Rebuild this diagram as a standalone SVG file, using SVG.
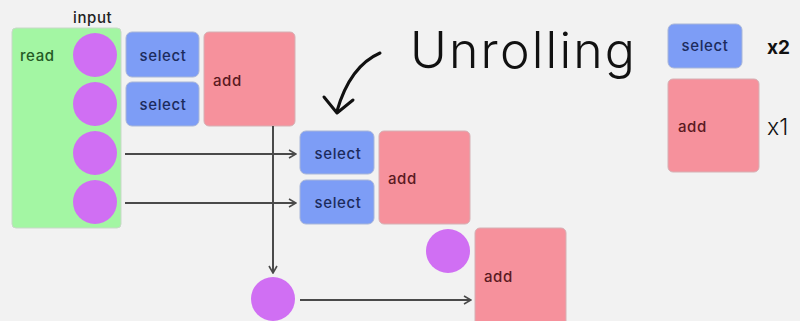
<svg xmlns="http://www.w3.org/2000/svg" width="800" height="321" viewBox="0 0 800 321">
  <defs>
    <marker id="tip" viewBox="0 0 10 10" refX="9" refY="5" markerWidth="10" markerHeight="10" markerUnits="userSpaceOnUse" orient="auto">
      <path d="M2,1 L9,5 L2,9" fill="none" stroke="#4a4a4a" stroke-width="1.6"/>
    </marker>
  </defs>
  <style>
    .bg { fill: #f2f2f2; }
    .read { fill: #a3f6a3; stroke: #c8d8c8; stroke-width: 1; }
    .sel { fill: #7d9df6; stroke: #a9b6d8; stroke-width: 1; }
    .add { fill: #f6919c; stroke: #d6b0b4; stroke-width: 1; }
    .dot { fill: #d06ff3; }
    .wire { fill: none; stroke: #4a4a4a; stroke-width: 2; }
    .lbl { font-family: Inter, "Liberation Sans", sans-serif; font-size: 15px; font-weight: 500; letter-spacing: 0.6px; }
    .selt { fill: #1c2b5c; text-anchor: middle; }
    .addt { fill: #5a1a22; }
    .readt { fill: #255a25; }
  </style>

  <rect class="bg" x="0" y="0" width="800" height="321"/>

  <!-- input reader with its four values -->
  <g id="read">
    <rect class="read" x="12" y="28" width="109" height="200" rx="4"/>
    <text class="lbl readt" x="20" y="61">read</text>
    <text class="lbl" x="73" y="23" fill="#222" font-weight="400">input</text>
    <circle class="dot" cx="95" cy="55" r="22"/>
    <circle class="dot" cx="95" cy="104" r="22"/>
    <circle class="dot" cx="95" cy="153" r="22"/>
    <circle class="dot" cx="95" cy="202" r="22"/>
  </g>

  <!-- first stage -->
  <g id="select1">
    <rect class="sel" x="126" y="32" width="73" height="45" rx="6"/>
    <text class="lbl selt" x="163" y="61">select</text>
  </g>
  <g id="select2">
    <rect class="sel" x="126" y="82" width="73" height="44" rx="6"/>
    <text class="lbl selt" x="163" y="110">select</text>
  </g>
  <g id="add1">
    <rect class="add" x="204" y="32" width="91" height="94" rx="5"/>
    <text class="lbl addt" x="213" y="86">add</text>
  </g>

  <!-- second stage -->
  <g id="select3">
    <rect class="sel" x="300" y="131" width="74" height="43" rx="6"/>
    <text class="lbl selt" x="338" y="159">select</text>
  </g>
  <g id="select4">
    <rect class="sel" x="300" y="180" width="74" height="44" rx="6"/>
    <text class="lbl selt" x="338" y="208">select</text>
  </g>
  <g id="add2">
    <rect class="add" x="379" y="131" width="91" height="93" rx="5"/>
    <text class="lbl addt" x="388" y="184">add</text>
  </g>

  <!-- final stage -->
  <g id="partial">
    <circle class="dot" cx="448" cy="251" r="22"/>
  </g>
  <g id="carry">
    <circle class="dot" cx="273" cy="299" r="22"/>
  </g>
  <g id="add3">
    <rect class="add" x="475" y="228" width="91" height="100" rx="5"/>
    <text class="lbl addt" x="484" y="282">add</text>
  </g>

  <!-- connectors -->
  <g id="connectors">
    <line class="wire" x1="125" y1="154" x2="296" y2="154" marker-end="url(#tip)"/>
    <line class="wire" x1="125" y1="203" x2="296" y2="203" marker-end="url(#tip)"/>
    <line class="wire" x1="273" y1="126" x2="273" y2="273" marker-end="url(#tip)"/>
    <line class="wire" x1="300" y1="300" x2="471" y2="300" marker-end="url(#tip)"/>
  </g>

  <!-- title with hand-drawn pointer -->
  <g id="title">
    <text x="410" y="68" font-family="Inter, 'Noto Sans', sans-serif" font-size="50" font-weight="300" fill="#111" textLength="225" lengthAdjust="spacing">Unrolling</text>
    <path d="M380,53 Q350,66 337,111" fill="none" stroke="#111" stroke-width="3" stroke-linecap="round"/>
    <path d="M324,97 L337,113 L353,100" fill="none" stroke="#111" stroke-width="3" stroke-linecap="round" stroke-linejoin="round"/>
  </g>

  <!-- legend -->
  <g id="legend-select">
    <rect class="sel" x="668" y="24" width="74" height="44" rx="6"/>
    <text class="lbl selt" x="705" y="51" font-size="14">select</text>
    <text x="767" y="54" font-family="Inter, 'Liberation Sans', sans-serif" font-size="19" font-weight="bold" fill="#111">x2</text>
  </g>
  <g id="legend-add">
    <rect class="add" x="668" y="79" width="91" height="93" rx="5"/>
    <text class="lbl addt" x="678" y="132" font-size="14">add</text>
    <text x="767" y="135" font-family="Inter, 'Liberation Sans', sans-serif" font-size="23" font-weight="300" fill="#111">x1</text>
  </g>
</svg>
